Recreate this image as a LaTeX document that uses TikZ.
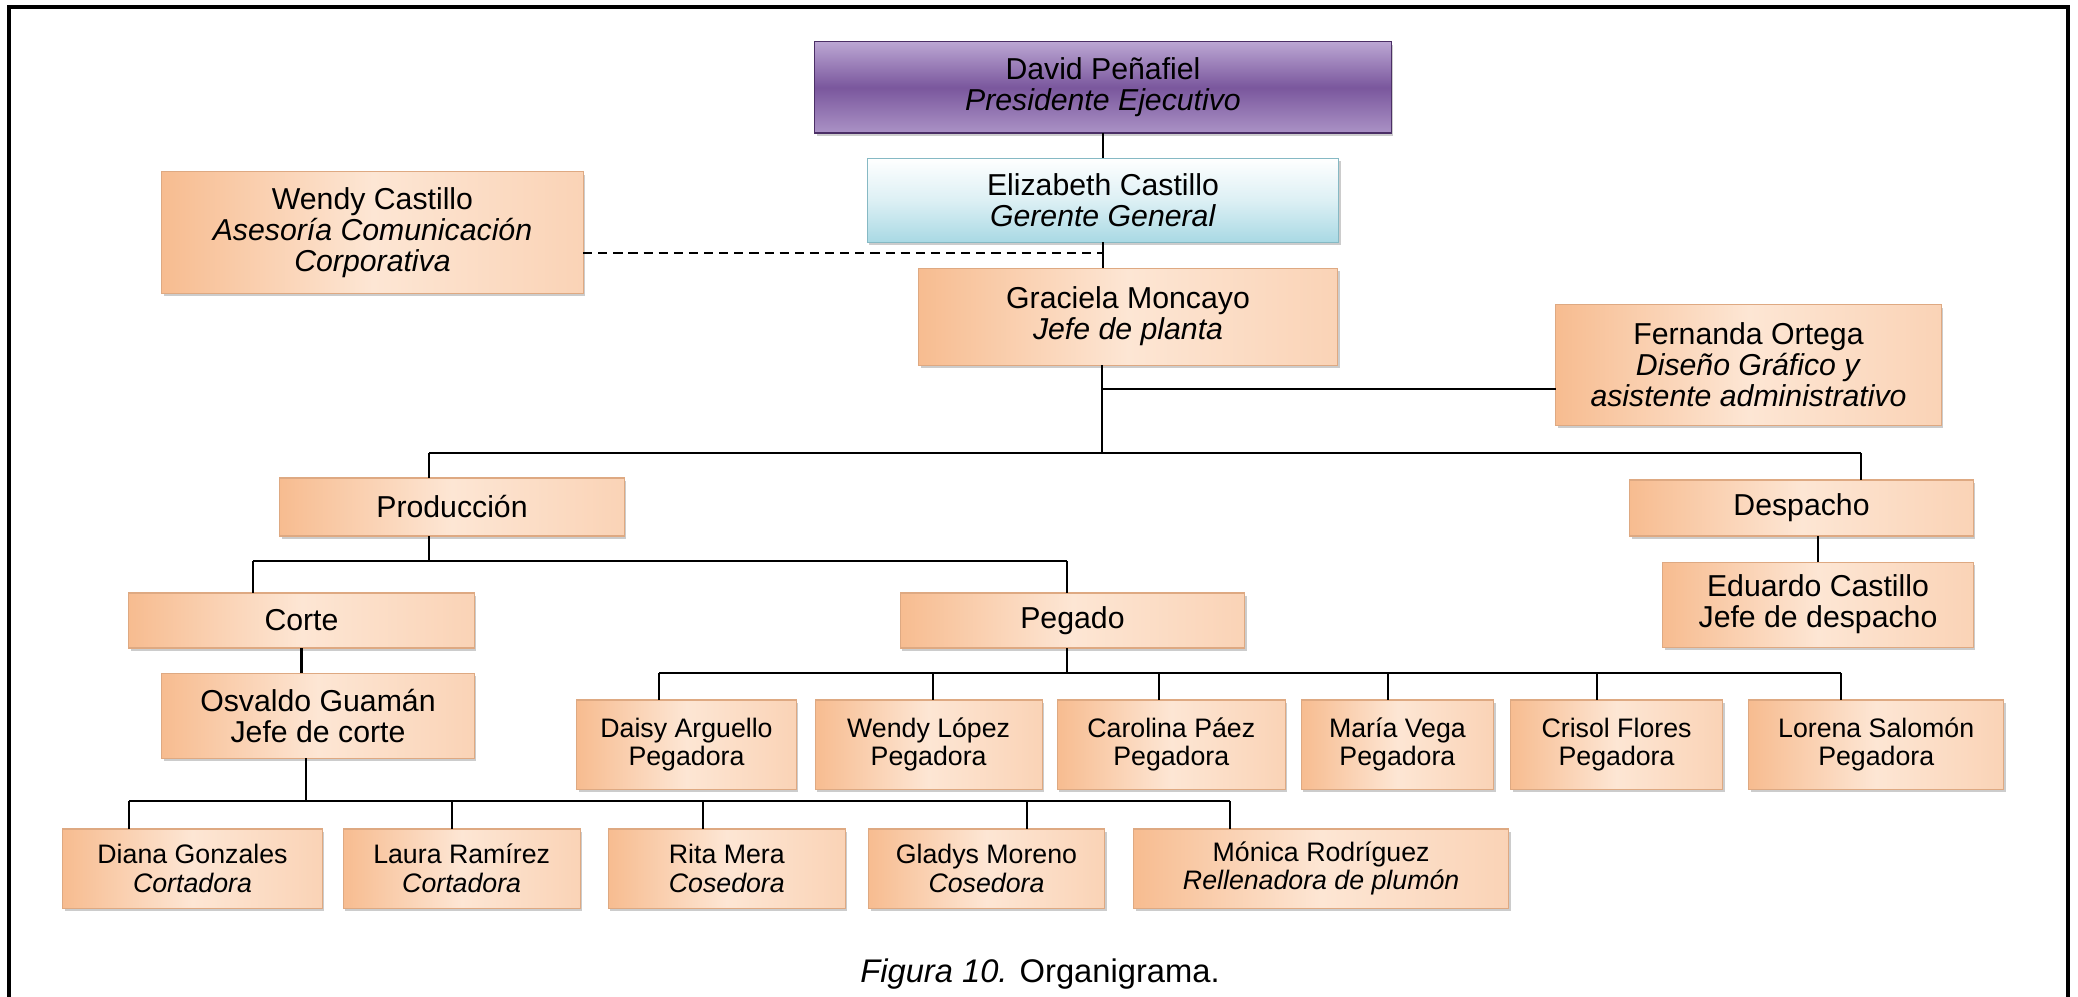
\documentclass[tikz,border=0pt]{standalone}
\usepackage{fontspec}
\setmainfont{Liberation Sans}
\usetikzlibrary{positioning, shadows}

\definecolor{orgA}{HTML}{F7BC90}
\definecolor{orgB}{HTML}{FDE6D4}
\definecolor{orgC}{HTML}{FAD3B6}
\definecolor{lilaA}{HTML}{BBA6D3}
\definecolor{lilaB}{HTML}{7A579D}
\definecolor{lilaBorde}{HTML}{4B2F66}
\definecolor{celB}{HTML}{A9D9E4}
\definecolor{celBorde}{HTML}{86B9C4}

\begin{document}
\begin{tikzpicture}[
    x=0.01cm, y=-0.01cm,
    box/.style={draw=orgA!90!black, line width=0.3pt, left color=orgA, right color=orgC, middle color=orgB,
        drop shadow={shadow xshift=0.6pt, shadow yshift=-0.9pt, opacity=0.4},
        align=center, inner sep=1pt, outer sep=0pt, font=\fontsize{8.6}{8.8}\selectfont},
    small/.style={box, font=\fontsize{7.6}{8.1}\selectfont},
    conn/.style={line width=0.7pt},
    dconn/.style={conn, dash pattern=on 2.6pt off 1.7pt}
]
    \useasboundingbox (0,0) rectangle (2078,997);
    \draw[line width=0.9pt] (9,997) -- (9,7) -- (2068,7) -- (2068,997);

    % direccion
    \node[box, top color=lilaA, bottom color=lilaA!75!lilaB, middle color=lilaB, draw=lilaBorde,
          minimum width=5.76cm, minimum height=0.91cm] (david) at (1103,87.5) {David Peñafiel\\\textit{Presidente Ejecutivo}};
    \node[box, top color=white, bottom color=celB, middle color=celB!40, draw=celBorde,
          minimum width=4.71cm, minimum height=0.84cm, below=0.25cm of david] (eliz) {Elizabeth Castillo\\\textit{Gerente General}};
    \node[box, minimum width=4.19cm, minimum height=0.97cm, below=0.26cm of eliz, xshift=0.25cm] (gra) {Graciela Moncayo\\\textit{Jefe de planta}};
    \node[box, minimum width=4.21cm, minimum height=1.21cm] (wendy) at (372.5,232.5) {Wendy Castillo\\\textit{Asesoría Comunicación}\\\textit{Corporativa}};
    \node[box, minimum width=3.85cm, minimum height=1.2cm] (fer) at (1748.5,365) {Fernanda Ortega\\\textit{Diseño Gráfico y}\\\textit{asistente administrativo}};

    % areas
    \node[box, minimum width=3.44cm, minimum height=0.58cm] (prod) at (452,507) {Producción};
    \node[box, minimum width=3.43cm, minimum height=0.56cm] (desp) at (1801.5,508) {Despacho};
    \node[box, minimum width=3.45cm, minimum height=0.55cm] (corte) at (301.5,620.5) {Corte};
    \node[box, minimum width=3.44cm, minimum height=0.55cm, right=4.26cm of corte] (pegado) {Pegado};
    \node[box, minimum width=3.1cm, minimum height=0.85cm, below=0.26cm of desp, xshift=0.165cm] (edu) {Eduardo Castillo\\Jefe de despacho};
    \node[box, minimum width=3.12cm, minimum height=0.85cm, below=0.25cm of corte, xshift=0.165cm] (osv) {Osvaldo Guamán\\Jefe de corte};

    % pegadoras
    \node[small, minimum width=2.19cm, minimum height=0.89cm] (daisy) at (686.5,744.5) {Daisy Arguello\\Pegadora};
    \node[small, minimum width=2.27cm, minimum height=0.89cm, right=0.19cm of daisy] (wendyl) {Wendy López\\Pegadora};
    \node[small, minimum width=2.28cm, minimum height=0.89cm, right=0.15cm of wendyl] (carolina) {Carolina Páez\\Pegadora};
    \node[small, minimum width=1.92cm, minimum height=0.89cm, right=0.16cm of carolina] (maria) {María Vega\\Pegadora};
    \node[small, minimum width=2.12cm, minimum height=0.89cm, right=0.17cm of maria] (crisol) {Crisol Flores\\Pegadora};
    \node[small, minimum width=2.55cm, minimum height=0.89cm, right=0.26cm of crisol] (lorena) {Lorena Salomón\\Pegadora};

    % corte
    \node[small, minimum width=2.59cm, minimum height=0.79cm] (diana) at (192.5,868.5) {Diana Gonzales\\\textit{Cortadora}};
    \node[small, minimum width=2.37cm, minimum height=0.79cm, right=0.21cm of diana] (laura) {Laura Ramírez\\\textit{Cortadora}};
    \node[small, minimum width=2.37cm, minimum height=0.79cm, right=0.28cm of laura] (rita) {Rita Mera\\\textit{Cosedora}};
    \node[small, minimum width=2.36cm, minimum height=0.79cm, right=0.23cm of rita] (gladys) {Gladys Moreno\\\textit{Cosedora}};
    \node[small, minimum width=3.75cm, minimum height=0.79cm, right=0.29cm of gladys] (monica) {Mónica Rodríguez\\\textit{Rellenadora de plumón}};

    \node[font=\fontsize{9.3}{11}\selectfont] (cap) at (1040,974) {\textit{Figura 10.} Organigrama.};

    % uniones
    \coordinate (dsh) at (1102,253);
    \coordinate (fj) at (1102,389);
    \coordinate (tb) at (1102,453);
    \coordinate (pj) at (429,453);
    \coordinate (dj) at (1861,453);
    \coordinate (cj) at (253,561);
    \coordinate (gj) at (1067,561);
    \coordinate (pb) at (1067,673);
    \coordinate (ob) at (306,801);

    \draw[conn] (david.south) -- (eliz.north);
    \draw[conn] (eliz.south) -- (eliz.south |- gra.north);
    \draw[dconn] (dsh -| wendy.east) -- (dsh);
    \draw[conn] (gra.south -| tb) -- (tb);
    \draw[conn] (fj) -- (fj -| fer.west);
    \draw[conn] (pj) -- (dj);
    \draw[conn] (pj) -- (pj |- prod.north);
    \draw[conn] (dj) -- (dj |- desp.north);
    \draw[conn] (prod.south -| pj) -- (pj |- cj);
    \draw[conn] (cj) -- (gj);
    \draw[conn] (cj) -- (cj |- corte.north);
    \draw[conn] (gj) -- (gj |- pegado.north);
    \draw[conn] (corte.south) -- (corte.south |- osv.north);
    \draw[conn] (edu.north) -- (edu.north |- desp.south);

    \draw[conn] (pegado.south -| pb) -- (pb);
    \draw[conn] (659,673) -- (1841,673);
    \foreach \n/\x in {daisy/659, wendyl/933, carolina/1159, maria/1388, crisol/1597, lorena/1841}
        \draw[conn] (\x,673) -- (\x,673 |- \n.north);

    \draw[conn] (osv.south -| ob) -- (ob);
    \draw[conn] (129,801) -- (1230,801);
    \foreach \n/\x in {diana/129, laura/452, rita/703, gladys/1027, monica/1230}
        \draw[conn] (\x,801) -- (\x,801 |- \n.north);

\end{tikzpicture}
\end{document}
